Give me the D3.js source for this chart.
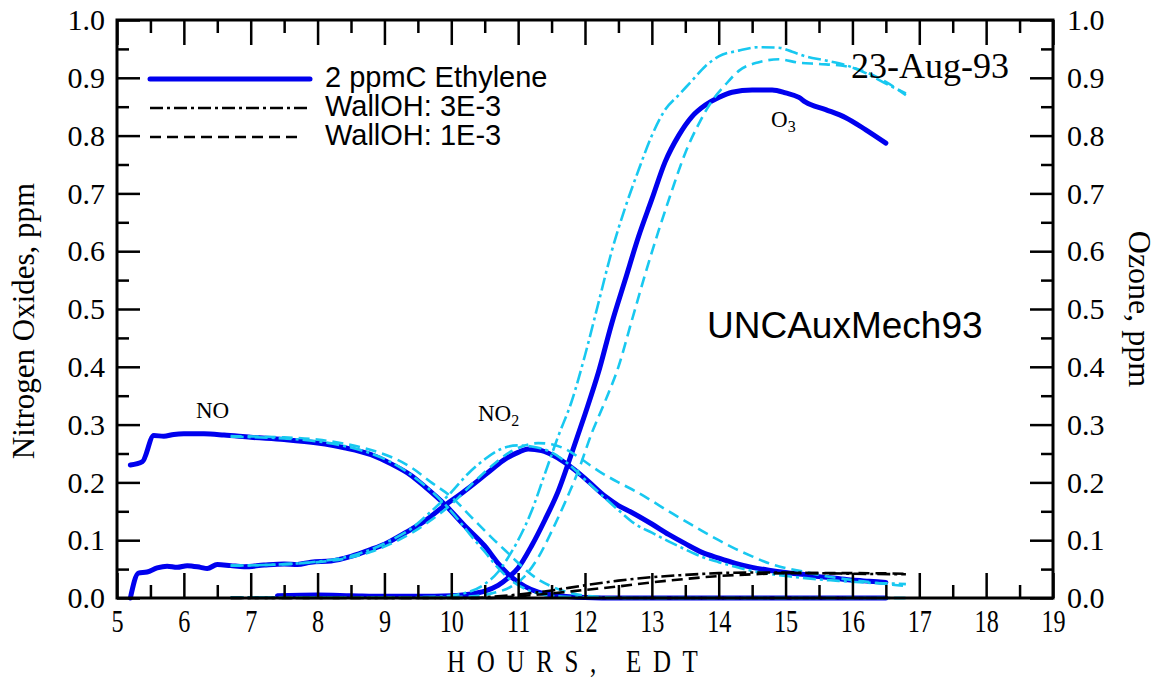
<!DOCTYPE html>
<html><head><meta charset="utf-8">
<script src="https://cdn.jsdelivr.net/npm/d3@7"></script>
<style>
body{margin:0;background:#fff;}
svg{display:block;}
.serif{font-family:"Liberation Serif","Times New Roman",serif;}
.sans{font-family:"Liberation Sans",Arial,sans-serif;}
</style>
</head><body>
<svg id="chart" width="1163" height="679"></svg>
<script>
// ---- data: [hour, ppm] ----
const hoursTicks = d3.range(5, 20, 1);
const ppmTicks = d3.range(0, 1.0001, 0.1);

const NO_base = [[5.2,0.23],[5.38,0.236],[5.55,0.281],[5.7,0.28],[5.85,0.283],[6.0,0.284],[6.3,0.284],[6.6,0.282],[7.0,0.278],[7.5,0.274],[8.0,0.268],[8.4,0.26],[8.8,0.248],[9.1,0.232],[9.4,0.212],[9.6,0.193],[9.9,0.162],[10.2,0.125],[10.5,0.09],[10.7,0.06],[10.9,0.036],[11.1,0.02],[11.3,0.01],[11.6,0.004],[12.0,0.001],[12.5,0],[16.5,0]];
const NO_w3 = [[6.7,0.279],[7.5,0.276],[8.0,0.271],[8.4,0.263],[8.8,0.25],[9.1,0.235],[9.4,0.213],[9.7,0.185],[10.0,0.15],[10.3,0.107],[10.5,0.08],[10.7,0.052],[10.9,0.03],[11.1,0.016],[11.3,0.008],[11.6,0.003],[12.0,0.001],[12.5,0],[16.8,0]];
const NO_w1 = [[6.7,0.28],[7.5,0.278],[8.0,0.274],[8.4,0.267],[8.8,0.256],[9.1,0.244],[9.4,0.226],[9.7,0.2],[10.0,0.175],[10.3,0.14],[10.6,0.105],[10.9,0.072],[11.1,0.05],[11.3,0.032],[11.5,0.02],[11.8,0.008],[12.2,0.002],[12.7,0],[16.8,0]];

const NO2_base = [[5.2,0],[5.32,0.043],[5.45,0.045],[5.6,0.052],[5.75,0.055],[5.9,0.053],[6.05,0.056],[6.25,0.053],[6.35,0.051],[6.5,0.058],[6.7,0.056],[6.9,0.054],[7.2,0.057],[7.5,0.059],[7.7,0.058],[7.9,0.062],[8.2,0.064],[8.5,0.072],[8.8,0.084],[9.0,0.093],[9.3,0.112],[9.6,0.133],[9.9,0.16],[10.2,0.185],[10.4,0.203],[10.6,0.222],[10.8,0.24],[11.0,0.252],[11.15,0.258],[11.35,0.255],[11.55,0.245],[11.75,0.23],[12.0,0.207],[12.3,0.176],[12.5,0.16],[12.7,0.148],[13.0,0.128],[13.25,0.11],[13.5,0.094],[13.75,0.079],[14.0,0.069],[14.25,0.06],[14.5,0.053],[14.75,0.048],[15.0,0.044],[15.25,0.041],[15.5,0.037],[15.75,0.034],[16.0,0.031],[16.25,0.029],[16.5,0.027]];
const NO2_w3 = [[6.7,0.056],[7.2,0.057],[7.6,0.059],[8.0,0.063],[8.4,0.07],[8.8,0.084],[9.1,0.1],[9.4,0.12],[9.7,0.15],[10.0,0.183],[10.25,0.215],[10.5,0.24],[10.75,0.258],[11.0,0.264],[11.2,0.262],[11.5,0.252],[11.75,0.232],[12.0,0.205],[12.25,0.178],[12.5,0.152],[12.75,0.128],[13.0,0.113],[13.25,0.098],[13.5,0.084],[13.75,0.071],[14.0,0.062],[14.25,0.054],[14.5,0.047],[14.75,0.042],[15.0,0.038],[15.25,0.035],[15.5,0.032],[15.75,0.03],[16.0,0.028],[16.3,0.026],[16.6,0.025],[16.8,0.024]];
const NO2_w1 = [[6.7,0.056],[7.2,0.057],[7.6,0.059],[8.0,0.062],[8.4,0.068],[8.8,0.08],[9.1,0.094],[9.4,0.112],[9.7,0.135],[10.0,0.162],[10.3,0.196],[10.6,0.228],[10.9,0.254],[11.1,0.264],[11.3,0.268],[11.5,0.266],[11.7,0.258],[11.95,0.24],[12.2,0.22],[12.5,0.2],[12.75,0.185],[13.0,0.168],[13.25,0.15],[13.5,0.133],[13.75,0.116],[14.0,0.1],[14.25,0.085],[14.5,0.072],[14.75,0.06],[15.0,0.052],[15.25,0.046],[15.5,0.04],[15.75,0.035],[16.0,0.031],[16.3,0.027],[16.6,0.023],[16.8,0.021]];

const O3_base = [[7.4,0.004],[8.0,0.005],[8.5,0.004],[9.0,0.003],[9.5,0.003],[10.0,0.004],[10.3,0.007],[10.5,0.012],[10.7,0.022],[10.85,0.035],[11.0,0.052],[11.2,0.09],[11.4,0.135],[11.6,0.185],[11.8,0.25],[12.0,0.318],[12.2,0.39],[12.4,0.475],[12.6,0.55],[12.8,0.625],[13.0,0.69],[13.2,0.755],[13.4,0.8],[13.6,0.833],[13.8,0.853],[14.0,0.866],[14.2,0.875],[14.5,0.879],[14.8,0.879],[15.0,0.874],[15.2,0.866],[15.3,0.858],[15.6,0.845],[15.9,0.831],[16.2,0.81],[16.5,0.787]];
const O3_w3 = [[6.7,0.001],[8,0.001],[9,0.001],[9.8,0.002],[10.1,0.006],[10.3,0.012],[10.5,0.024],[10.7,0.045],[10.85,0.07],[11.0,0.1],[11.2,0.15],[11.4,0.215],[11.6,0.28],[11.8,0.34],[12.0,0.42],[12.2,0.51],[12.4,0.6],[12.6,0.675],[12.8,0.74],[13.0,0.8],[13.2,0.845],[13.4,0.87],[13.6,0.895],[13.8,0.92],[14.0,0.937],[14.3,0.947],[14.6,0.953],[14.9,0.952],[15.1,0.945],[15.3,0.937],[15.6,0.93],[15.9,0.922],[16.2,0.908],[16.5,0.89],[16.8,0.873]];
const O3_w1 = [[6.7,0.001],[9.8,0.001],[10.3,0.003],[10.6,0.008],[10.9,0.02],[11.1,0.038],[11.3,0.07],[11.5,0.115],[11.7,0.165],[11.9,0.22],[12.1,0.285],[12.3,0.34],[12.5,0.4],[12.7,0.48],[12.9,0.56],[13.1,0.635],[13.3,0.705],[13.5,0.77],[13.7,0.82],[13.9,0.86],[14.1,0.888],[14.3,0.912],[14.6,0.927],[14.9,0.932],[15.2,0.926],[15.5,0.924],[15.9,0.92],[16.2,0.91],[16.5,0.893],[16.8,0.87]];

const X_w3 = [[6.7,0],[10.3,0],[10.6,0.002],[11.0,0.006],[11.5,0.013],[12.0,0.022],[12.5,0.03],[13.0,0.036],[13.5,0.04],[14.0,0.043],[14.5,0.044],[15.0,0.044],[15.5,0.043],[16.0,0.042],[16.8,0.041]];
const X_w1 = [[6.7,0],[10.5,0],[11.0,0.003],[11.5,0.008],[12.0,0.014],[12.5,0.02],[13.0,0.027],[13.5,0.033],[14.0,0.038],[14.5,0.041],[15.0,0.043],[15.5,0.043],[16.0,0.043],[16.8,0.042]];

const legendLabels = ["2 ppmC Ethylene","WallOH: 3E-3","WallOH: 1E-3"];

// ---- layout ----
const BLUE="#0000ee", CYAN="#18c8f0", BLACK="#000";
const L=117,R=1053,T=20,B=598;
const svg=d3.select("#chart");
const x=d3.scaleLinear([5,19],[L,R]);
const y=d3.scaleLinear([0,1],[B,T]);

const line=d3.line().x(d=>x(d[0])).y(d=>y(d[1])).curve(d3.curveMonotoneX);
const DD="13,4,3,4", DA="11,6";

function draw(data,color,w,dash){
  svg.append("path").datum(data).attr("d",line).attr("fill","none")
    .attr("stroke",color).attr("stroke-width",w).attr("stroke-linejoin","round")
    .attr("stroke-linecap",dash?"butt":"round").attr("stroke-dasharray",dash);
}
[NO_base,NO2_base,O3_base].forEach(d=>draw(d,BLUE,5,null));
[NO_w3,NO2_w3,O3_w3].forEach(d=>draw(d,CYAN,2.6,DD));
[NO_w1,NO2_w1,O3_w1].forEach(d=>draw(d,CYAN,2.6,DA));
draw(X_w3,BLACK,2.6,DD);
draw(X_w1,BLACK,2.6,DA);

// ---- axes ----
function styleAxis(g,fs){
  g.select(".domain").remove();
  g.selectAll(".tick line").attr("stroke","#000").attr("stroke-width",2.5);
  g.selectAll("text").attr("class","serif").attr("font-size",fs).attr("fill","#000");
}
svg.append("g").attr("transform",`translate(0,${B})`)
  .call(d3.axisBottom(x).tickValues(hoursTicks).tickSize(-25).tickPadding(12).tickFormat(d3.format("d")))
  .call(g=>{styleAxis(g,31); g.selectAll("text").attr("transform","scale(0.78,1)");});
svg.append("g").attr("transform",`translate(0,${B})`)
  .call(d3.axisBottom(x).tickValues(d3.range(5.5,19,1)).tickSize(-13).tickFormat(""))
  .call(g=>styleAxis(g,0));
svg.append("g").attr("transform",`translate(0,${T})`)
  .call(d3.axisTop(x).tickValues(hoursTicks).tickSize(-25).tickFormat(""))
  .call(g=>styleAxis(g,0));
svg.append("g").attr("transform",`translate(0,${T})`)
  .call(d3.axisTop(x).tickValues(d3.range(5.5,19,1)).tickSize(-13).tickFormat(""))
  .call(g=>styleAxis(g,0));
svg.append("g").attr("transform",`translate(${L},0)`)
  .call(d3.axisLeft(y).tickValues(ppmTicks).tickSize(-23).tickPadding(12).tickFormat(d3.format(".1f")))
  .call(g=>styleAxis(g,30));
svg.append("g").attr("transform",`translate(${L},0)`)
  .call(d3.axisLeft(y).tickValues(d3.range(0.05,1,0.1)).tickSize(-12).tickFormat(""))
  .call(g=>styleAxis(g,0));
svg.append("g").attr("transform",`translate(${R},0)`)
  .call(d3.axisRight(y).tickValues(ppmTicks).tickSize(-23).tickPadding(14).tickFormat(d3.format(".1f")))
  .call(g=>styleAxis(g,30));
svg.append("g").attr("transform",`translate(${R},0)`)
  .call(d3.axisRight(y).tickValues(d3.range(0.05,1,0.1)).tickSize(-12).tickFormat(""))
  .call(g=>styleAxis(g,0));

svg.append("rect").attr("x",L).attr("y",T).attr("width",R-L).attr("height",B-T)
  .attr("fill","none").attr("stroke","#000").attr("stroke-width",3);

// axis titles
svg.append("text").attr("class","serif").attr("font-size",32)
  .attr("letter-spacing","15")
  .attr("transform","translate(447,672) scale(0.78,1)").attr("x",0).attr("y",0).text("HOURS, EDT");
svg.append("text").attr("class","serif").attr("font-size",31)
  .attr("text-anchor","middle").attr("transform","translate(34,321) rotate(-90)")
  .text("Nitrogen Oxides, ppm");
svg.append("text").attr("class","serif").attr("font-size",32)
  .attr("text-anchor","middle").attr("transform","translate(1129,309) rotate(90)")
  .text("Ozone, ppm");

// legend
const legStyles=[{c:BLUE,w:5,d:null},{c:BLACK,w:2.6,d:DD},{c:BLACK,w:2.6,d:DA}];
const legY=[79,108,137];
legendLabels.forEach((lab,i)=>{
  const s=legStyles[i];
  svg.append("line").attr("x1",150).attr("x2",i==2?302:310).attr("y1",legY[i]).attr("y2",legY[i])
    .attr("stroke",s.c).attr("stroke-width",s.w).attr("stroke-dasharray",s.d)
    .attr("stroke-linecap",s.d?"butt":"round");
  svg.append("text").attr("class","sans").attr("font-size",29)
    .attr("x",325).attr("y",legY[i]+8).text(lab);
});

// annotations
svg.append("text").attr("class","serif").attr("font-size",36).attr("x",851).attr("y",78).text("23-Aug-93");
svg.append("text").attr("class","sans").attr("font-size",37).attr("x",707).attr("y",338).text("UNCAuxMech93");
svg.append("text").attr("class","serif").attr("font-size",23).attr("x",196).attr("y",418).text("NO");
const no2=svg.append("text").attr("class","serif").attr("font-size",23).attr("x",478).attr("y",421).text("NO");
no2.append("tspan").attr("font-size",16).attr("dy",5).text("2");
const o3=svg.append("text").attr("class","serif").attr("font-size",23).attr("x",771).attr("y",127).text("O");
o3.append("tspan").attr("font-size",16).attr("dy",5).text("3");
</script>
</body></html>
